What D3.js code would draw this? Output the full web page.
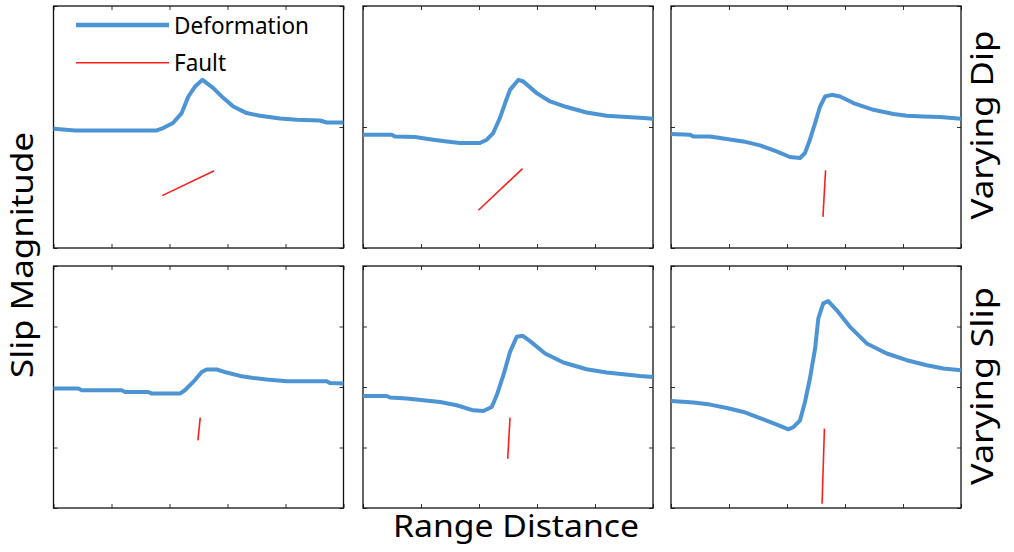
<!DOCTYPE html>
<html>
<head>
<meta charset="utf-8">
<script src="https://cdn.jsdelivr.net/npm/d3@7"></script>
<style>
  body { margin: 0; background: #fff; }
  text { font-family: 'Noto Sans', 'Open Sans', sans-serif; fill: #000; }
</style>
</head>
<body>
<div class="main"></div>
<script>
// tick positions (no labels in the figure)
var xTicks = [0, 20, 40, 60, 80, 100];
var yTicksTop = [-1, 0, 1];
var yTicksBottom = [-2, -1, 0, 1, 2];
var rowLabels = ['Varying Dip', 'Varying Slip'];
var legendLabels = ['Deformation', 'Fault'];

// deformation profiles [range, slip]
var dipLow = [[0, -0.014], [7.4, -0.028], [35.6, -0.028], [37.8, -0.009], [41.2, 0.033], [44.2, 0.115], [46.5, 0.252], [48.8, 0.334], [51.4, 0.39], [55.1, 0.321], [58.6, 0.239], [62, 0.169], [66.6, 0.115], [71.2, 0.093], [78.1, 0.071], [83.9, 0.06], [91.9, 0.054], [94.2, 0.0375], [100, 0.0375]];
var dipMid = [[0, -0.064], [9.9, -0.064], [11, -0.078], [17.9, -0.083], [24.2, -0.105], [28.9, -0.119], [33.4, -0.132], [40.3, -0.132], [42.7, -0.105], [44.9, -0.05], [47.2, 0.074], [49, 0.198], [50.7, 0.307], [53.6, 0.39], [55.3, 0.376], [59.9, 0.28], [64.5, 0.211], [70.2, 0.165], [77.1, 0.12], [84, 0.093], [90.9, 0.082], [96.7, 0.074], [100, 0.068]];
var dipHigh = [[0, -0.058], [6.6, -0.064], [7.7, -0.078], [13.4, -0.078], [19.2, -0.099], [24.9, -0.119], [30.7, -0.152], [36.4, -0.202], [41, -0.248], [44.5, -0.256], [46.2, -0.215], [47.9, -0.105], [49.7, 0.033], [51.4, 0.169], [53.1, 0.252], [55.4, 0.266], [58.3, 0.252], [62.9, 0.198], [69.8, 0.142], [76.7, 0.107], [81.3, 0.093], [87, 0.087], [92.8, 0.082], [100, 0.068]];
var slipLow = [[0, -0.026], [8.6, -0.026], [9.7, -0.054], [23.5, -0.054], [24.7, -0.082], [32.7, -0.082], [33.9, -0.109], [43.6, -0.109], [45.3, -0.054], [48.2, 0.084], [51.1, 0.249], [52.8, 0.289], [56.3, 0.289], [59.7, 0.239], [64.3, 0.183], [68.9, 0.15], [73.5, 0.123], [80.4, 0.095], [94.2, 0.095], [95.3, 0.067], [100, 0.058]];
var slipMid = [[0, -0.148], [8.2, -0.148], [9.3, -0.175], [15.1, -0.191], [20.8, -0.219], [26.6, -0.248], [32.3, -0.302], [38, -0.385], [41.5, -0.397], [44.4, -0.33], [46.1, -0.137], [48.4, 0.195], [50.7, 0.581], [53, 0.829], [55.1, 0.846], [57.6, 0.758], [62.8, 0.554], [69.1, 0.405], [77.1, 0.294], [84, 0.239], [89.8, 0.211], [95.5, 0.183], [100, 0.166]];
var slipHigh = [[0, -0.231], [7.8, -0.258], [13.5, -0.291], [19.3, -0.347], [25, -0.413], [30.7, -0.513], [36.5, -0.622], [40.5, -0.7], [42.2, -0.662], [44.5, -0.551], [46.2, -0.248], [47.9, 0.14], [49.7, 0.637], [50.8, 1.134], [52.5, 1.382], [54.2, 1.42], [57.1, 1.271], [61.7, 0.995], [67.5, 0.72], [74.4, 0.554], [81.3, 0.443], [88.2, 0.36], [93.9, 0.306], [100, 0.278]];

// fault traces [range, depth]
var faultDipLow = [[37.5, -0.567], [55.4, -0.361]];
var faultDipMid = [[39.8, -0.688], [55, -0.344]];
var faultDipHigh = [[52.4, -0.743], [53.3, -0.358]];
var faultSlipLow = [[49.8, -0.882], [50.6, -0.506]];
var faultSlipMid = [[49.9, -1.185], [50.7, -0.506]];
var faultSlipHigh = [[52.1, -1.93], [52.9, -0.688]];

var panels = [
    { row: 0, col: 0, def: dipLow, fault: faultDipLow },
    { row: 0, col: 1, def: dipMid, fault: faultDipMid },
    { row: 0, col: 2, def: dipHigh, fault: faultDipHigh },
    { row: 1, col: 0, def: slipLow, fault: faultSlipLow },
    { row: 1, col: 1, def: slipMid, fault: faultSlipMid },
    { row: 1, col: 2, def: slipHigh, fault: faultSlipHigh }
];

var blue = 'rgb(77, 148, 213)';
var red = 'rgb(255, 30, 30)';

var colX = [53.5, 363, 671];
var rowY = [6, 266];
var pw = 290, ph = 242;

var svg = d3.select('.main')
    .append('svg')
    .attr('width', 1014)
    .attr('height', 552);

var x = d3.scaleLinear().domain([0, 100]).range([0, pw]);
var yScales = [
    d3.scaleLinear().domain([-1, 1]).range([ph, 0]),
    d3.scaleLinear().domain([-2, 2]).range([ph, 0])
];
var yTickSets = [yTicksTop, yTicksBottom];

panels.forEach(function (p) {
    var y = yScales[p.row];
    var g = svg.append('g')
        .attr('transform', 'translate(' + [colX[p.col], rowY[p.row]] + ')');

    var axes = [
        { axis: d3.axisBottom(x).tickValues(xTicks), t: [0, ph] },
        { axis: d3.axisTop(x).tickValues(xTicks), t: [0, 0] },
        { axis: d3.axisLeft(y).tickValues(yTickSets[p.row]), t: [0, 0] },
        { axis: d3.axisRight(y).tickValues(yTickSets[p.row]), t: [pw, 0] }
    ];
    axes.forEach(function (a) {
        var ag = g.append('g')
            .attr('transform', 'translate(' + a.t + ')')
            .call(a.axis.tickSize(-4).tickFormat(''));
        ag.select('.domain').remove();
        ag.selectAll('line').attr('stroke', '#333').attr('stroke-width', 1);
    });

    g.append('rect')
        .attr('x', 0)
        .attr('y', 0)
        .attr('width', pw)
        .attr('height', ph)
        .style('fill', 'none')
        .style('stroke', '#111')
        .style('stroke-width', 1.3);

    var line = d3.line()
        .x(function (d) { return x(d[0]); })
        .y(function (d) { return y(d[1]); });

    g.append('path')
        .attr('d', line(p.def))
        .style('fill', 'none')
        .style('stroke', blue)
        .style('stroke-width', 4)
        .style('stroke-linejoin', 'round');

    g.append('path')
        .attr('d', line(p.fault))
        .style('fill', 'none')
        .style('stroke', red)
        .style('stroke-width', 1.6);
});

// legend in first panel
var legend = svg.append('g')
    .attr('transform', 'translate(' + [76, 25] + ')');

legend.selectAll('.key')
    .data(legendLabels)
    .enter()
    .append('line')
    .attr('x1', 0)
    .attr('x2', 93)
    .attr('y1', function (d, i) { return i * 37.7; })
    .attr('y2', function (d, i) { return i * 37.7; })
    .style('stroke', function (d, i) { return i === 0 ? blue : red; })
    .style('stroke-width', function (d, i) { return i === 0 ? 4.5 : 1.6; });

legend.selectAll('.label')
    .data(legendLabels)
    .enter()
    .append('text')
    .attr('x', 98)
    .attr('y', function (d, i) { return i * 37.7 + 8.5; })
    .attr('textLength', function (d, i) { return i === 0 ? 135 : 52; })
    .attr('lengthAdjust', 'spacingAndGlyphs')
    .style('font-size', '24px')
    .text(function (d) { return d; });

// axis titles
svg.append('text')
    .attr('transform', 'translate(33,255) rotate(-90)')
    .attr('text-anchor', 'middle')
    .attr('textLength', 246)
    .attr('lengthAdjust', 'spacingAndGlyphs')
    .style('font-size', '30px')
    .text('Slip Magnitude');

svg.append('text')
    .attr('x', 516)
    .attr('y', 537)
    .attr('text-anchor', 'middle')
    .attr('textLength', 246)
    .attr('lengthAdjust', 'spacingAndGlyphs')
    .style('font-size', '30px')
    .text('Range Distance');

svg.selectAll('.row-label')
    .data(rowLabels)
    .enter()
    .append('text')
    .attr('class', 'row-label')
    .attr('transform', function (d, i) {
        return 'translate(' + [993, i === 0 ? 125 : 386] + ') rotate(-90)';
    })
    .attr('text-anchor', 'middle')
    .attr('textLength', function (d, i) { return i === 0 ? 189 : 198; })
    .attr('lengthAdjust', 'spacingAndGlyphs')
    .style('font-size', '30px')
    .text(function (d) { return d; });
</script>
</body>
</html>
